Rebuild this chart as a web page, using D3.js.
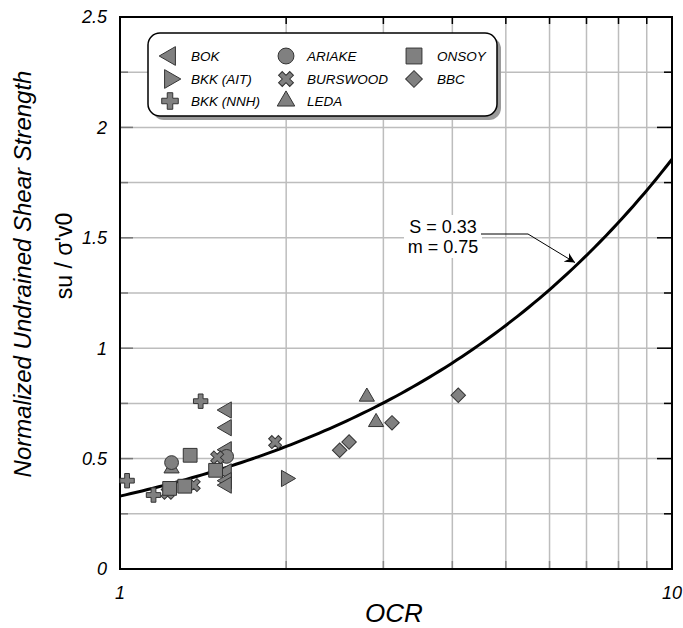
<!DOCTYPE html>
<html><head><meta charset="utf-8">
<script src="https://cdn.jsdelivr.net/npm/d3@7"></script>
<style>
html,body{margin:0;padding:0;background:#fff;}
svg{display:block;font-family:Arial,"Liberation Sans",sans-serif;}
</style></head>
<body><svg id="c" width="683" height="628"></svg>
<script>
// ---- data ----
const seriesNames = ["BOK","BKK (AIT)","BKK (NNH)","ARIAKE","BURSWOOD","LEDA","ONSOY","BBC"];
const bokOCR = [1.56,1.56,1.56,1.56,1.56,1.56];
const bokSu  = [0.72,0.64,0.54,0.44,0.40,0.38];
const bkkAitOCR = [2.0];
const bkkAitSu  = [0.41];
const bkkNnhOCR = [1.03,1.15,1.40];
const bkkNnhSu  = [0.40,0.335,0.76];
const ledaOCR = [1.24,2.80,2.91];
const ledaSu  = [0.455,0.78,0.665];
const ariakeOCR = [1.24,1.56];
const ariakeSu  = [0.482,0.51];
const burswoodOCR = [1.22,1.36,1.50,1.91];
const burswoodSu  = [0.345,0.38,0.505,0.575];
const onsoyOCR = [1.23,1.31,1.34,1.49];
const onsoySu  = [0.365,0.375,0.515,0.447];
const bbcOCR = [2.50,2.60,3.11,4.10];
const bbcSu  = [0.538,0.575,0.662,0.787];
const fitS = 0.33, fitM = 0.75;
const yTicks = [0,0.5,1,1.5,2,2.5];
const yMinor = [0.25,0.75,1.25,1.75,2.25];
const xTicks = [1,10];
const xMinor = [2,3,4,5,6,7,8,9];

// ---- layout ----
const L=120,R=672,T=17,B=569;
const svg=d3.select("#c");
const x=d3.scaleLog().domain([1,10]).range([L,R]);
const y=d3.scaleLinear().domain([0,2.5]).range([B,T]);
const grid="#bdbdbd", fill="#808080", stroke="#333";

// grid
svg.append("g").selectAll("line").data(xMinor).join("line")
 .attr("x1",d=>x(d)).attr("x2",d=>x(d)).attr("y1",T).attr("y2",B)
 .attr("stroke",grid).attr("stroke-width",1.5);
const allY=yTicks.concat(yMinor).filter(d=>d>0&&d<2.5);
svg.append("g").selectAll("line").data(allY).join("line")
 .attr("x1",L).attr("x2",R).attr("y1",d=>y(d)).attr("y2",d=>y(d))
 .attr("stroke",grid).attr("stroke-width",1.5);

// tick stubs
svg.append("g").selectAll("line").data(allY).join("line")
 .attr("x1",L).attr("x2",d=>L+(d%0.5===0?13:8)).attr("y1",d=>y(d)).attr("y2",d=>y(d))
 .attr("stroke","#777").attr("stroke-width",1.5);
svg.append("g").selectAll("line").data(allY).join("line")
 .attr("x1",R).attr("x2",d=>R-(d%0.5===0?15:8)).attr("y1",d=>y(d)).attr("y2",d=>y(d))
 .attr("stroke","#000").attr("stroke-width",1.5);
svg.append("g").selectAll("line").data(xMinor).join("line")
 .attr("x1",d=>x(d)).attr("x2",d=>x(d)).attr("y1",T).attr("y2",T+7)
 .attr("stroke","#000").attr("stroke-width",1.5);
svg.append("g").selectAll("line").data(xMinor).join("line")
 .attr("x1",d=>x(d)).attr("x2",d=>x(d)).attr("y1",B).attr("y2",B-8)
 .attr("stroke","#888").attr("stroke-width",1.5);

// frame
svg.append("rect").attr("x",L).attr("y",T).attr("width",R-L).attr("height",B-T)
 .attr("fill","none").attr("stroke","#000").attr("stroke-width",2);

// tick labels
svg.append("g").selectAll("text").data(yTicks).join("text")
 .attr("x",L-13).attr("y",d=>y(d)).attr("dy","0.35em").attr("text-anchor","end")
 .attr("font-size",18).attr("font-style","italic").text(d=>d);
svg.append("g").selectAll("text").data(xTicks).join("text")
 .attr("x",d=>x(d)).attr("y",B+24).attr("dy","0.35em").attr("text-anchor","middle")
 .attr("font-size",18).attr("font-style","italic").text(d=>d);

// axis titles
svg.append("text").attr("x",394).attr("y",622).attr("text-anchor","middle")
 .attr("font-size",26).attr("font-style","italic").text("OCR");
svg.append("text").attr("transform","translate(31,274) rotate(-90)").attr("text-anchor","middle")
 .attr("font-size",24).attr("font-style","italic").text("Normalized Undrained Shear Strength");
svg.append("text").attr("transform","translate(72,256) rotate(-90)").attr("text-anchor","middle")
 .attr("font-size",23).text("su / σ'v0");

// curve
const curveX=d3.range(0,101).map(i=>Math.pow(10,i/100));
svg.append("path").datum(curveX)
 .attr("d",d3.line().x(d=>x(d)).y(d=>y(fitS*Math.pow(d,fitM))))
 .attr("fill","none").attr("stroke","#000").attr("stroke-width",3);

// symbols
function sym(kind,size){
  const s=size||1;
  switch(kind){
    case "left": return {d:d3.symbol(d3.symbolTriangle,115*s*s)(),rot:-90};
    case "right": return {d:d3.symbol(d3.symbolTriangle,115*s*s)(),rot:90};
    case "plus": return {d:d3.symbol(d3.symbolCross,115*s*s)(),rot:0};
    case "circle": return {d:d3.symbol(d3.symbolCircle,150*s*s)(),rot:0};
    case "x": return {d:d3.symbol(d3.symbolCross,105*s*s)(),rot:45};
    case "tri": return {d:d3.symbol(d3.symbolTriangle,100*s*s)(),rot:0};
    case "square": return {d:d3.symbol(d3.symbolSquare,190*s*s)(),rot:0};
    case "diamond": return {d:d3.symbol(d3.symbolSquare,105*s*s)(),rot:45};
  }
}
const series=[
 {name:"BOK",kind:"left",ocr:bokOCR,su:bokSu},
 {name:"BKK (AIT)",kind:"right",ocr:bkkAitOCR,su:bkkAitSu},
 {name:"BKK (NNH)",kind:"plus",ocr:bkkNnhOCR,su:bkkNnhSu},
 {name:"LEDA",kind:"tri",ocr:ledaOCR,su:ledaSu},
 {name:"ARIAKE",kind:"circle",ocr:ariakeOCR,su:ariakeSu},
 {name:"BURSWOOD",kind:"x",ocr:burswoodOCR,su:burswoodSu},
 {name:"ONSOY",kind:"square",ocr:onsoyOCR,su:onsoySu},
 {name:"BBC",kind:"diamond",ocr:bbcOCR,su:bbcSu}
];
series.forEach(s=>{
  const sh=sym(s.kind);
  svg.append("g").selectAll("path").data(s.ocr.map((o,i)=>[o,s.su[i]])).join("path")
   .attr("d",sh.d).attr("transform",d=>`translate(${x(d[0])},${y(d[1])}) rotate(${sh.rot})`)
   .attr("fill",fill).attr("stroke",stroke).attr("stroke-width",1);
});

// legend
const lg=svg.append("g");
lg.append("rect").attr("x",152).attr("y",37).attr("width",349).attr("height",83).attr("rx",12)
 .attr("fill","#9a9a9a");
lg.append("rect").attr("x",148).attr("y",33).attr("width",349).attr("height",83).attr("rx",12)
 .attr("fill","#fff").attr("stroke","#000").attr("stroke-width",1.5);
const legendOrder=[
 ["BOK","left",0,0],["BKK (AIT)","right",0,1],["BKK (NNH)","plus",0,2],
 ["ARIAKE","circle",1,0],["BURSWOOD","x",1,1],["LEDA","tri",1,2],
 ["ONSOY","square",2,0],["BBC","diamond",2,1]];
const colSym=[170,286,414], colTxt=[191,307,437], rowY=[56,79,101];
legendOrder.forEach(([n,k,c,r])=>{
  const sh=sym(k,1.15);
  lg.append("path").attr("d",sh.d).attr("transform",`translate(${colSym[c]},${rowY[r]}) rotate(${sh.rot})`)
   .attr("fill",fill).attr("stroke",stroke).attr("stroke-width",1);
  lg.append("text").attr("x",colTxt[c]).attr("y",rowY[r]).attr("dy","0.35em")
   .attr("font-size",13.5).attr("font-style","italic").text(n);
});

// annotation
svg.append("defs").append("marker").attr("id","ah").attr("viewBox","0 0 10 10")
 .attr("refX",10).attr("refY",5).attr("markerWidth",10).attr("markerHeight",10)
 .attr("markerUnits","userSpaceOnUse").attr("orient","auto")
 .append("path").attr("d","M0,0 L10,5 L0,10 L3,5 Z").attr("fill","#000");
const tipOCR=6.7;
svg.append("rect").attr("x",404).attr("y",215).attr("width",78).attr("height",43).attr("fill","#fff");
svg.append("polyline")
 .attr("points",`481,234 528,234 ${x(tipOCR)-1},${y(fitS*Math.pow(tipOCR,fitM))-3}`)
 .attr("fill","none").attr("stroke","#000").attr("stroke-width",1).attr("marker-end","url(#ah)");
svg.append("text").attr("x",443).attr("y",233).attr("text-anchor","middle").attr("font-size",18).text("S = 0.33");
svg.append("text").attr("x",443).attr("y",253).attr("text-anchor","middle").attr("font-size",18).text("m = 0.75");
</script></body></html>
